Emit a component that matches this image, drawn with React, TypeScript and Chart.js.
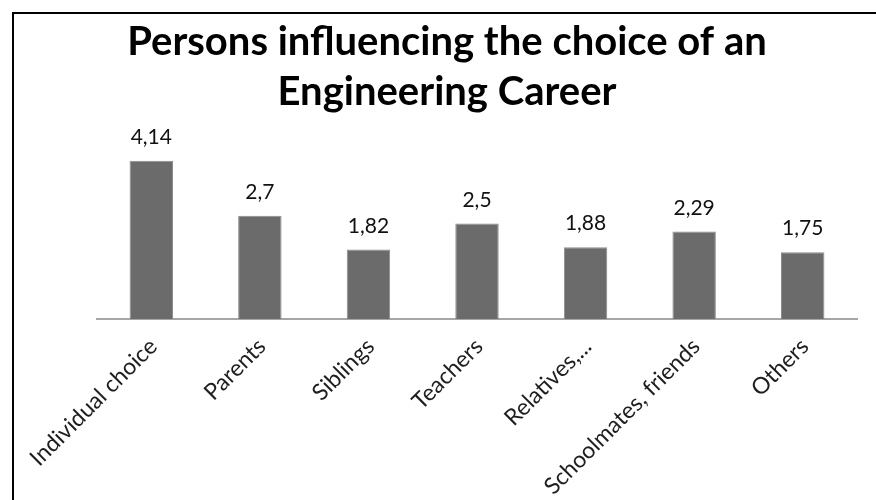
import React, { useEffect, useRef } from "react";
import { Chart, registerables } from "chart.js";

Chart.register(...registerables);

const categories = [
  "Individual choice",
  "Parents",
  "Siblings",
  "Teachers",
  "Relatives,...",
  "Schoolmates, friends",
  "Others",
];
const values = [4.14, 2.7, 1.82, 2.5, 1.88, 2.29, 1.75];
const titleLines = ["Persons influencing the choice of an", "Engineering Career"];

const FONT = "Lato, 'Open Sans', 'DejaVu Sans', sans-serif";

const valueLabels = {
  id: "valueLabels",
  afterDatasetsDraw(chart: any) {
    const ctx = chart.ctx;
    const meta = chart.getDatasetMeta(0);
    ctx.save();
    ctx.font = `21px ${FONT}`;
    ctx.fillStyle = "#111111";
    ctx.textAlign = "center";
    ctx.textBaseline = "bottom";
    meta.data.forEach((el: any, i: number) => {
      const txt = String(values[i]).replace(".", ",");
      ctx.fillText(txt, el.x, el.y - 13);
    });
    ctx.restore();
  },
};

export default function App() {
  const ref = useRef<HTMLCanvasElement>(null);
  useEffect(() => {
    document.body.style.margin = "0";
    if (!ref.current) return;
    const chart = new Chart(ref.current, {
      type: "bar",
      data: {
        labels: categories,
        datasets: [
          {
            data: values,
            backgroundColor: "#6b6b6b",
            borderColor: "#8c8c8c",
            borderWidth: 1,
            categoryPercentage: 1,
            barPercentage: 0.4,
          },
        ],
      },
      plugins: [valueLabels],
      options: {
        animation: false,
        responsive: true,
        maintainAspectRatio: false,
        layout: { padding: { left: 37, right: 19, top: 0, bottom: 0 } },
        plugins: {
          legend: { display: false },
          tooltip: { enabled: false },
          title: {
            display: true,
            text: titleLines,
            color: "#000000",
            font: { family: FONT, size: 40, weight: "bold", lineHeight: "50px" } as any,
            padding: { top: 17, bottom: 11 },
          },
        },
        scales: {
          x: {
            grid: { display: false },
            border: { display: true, color: "#a6a6a6", width: 2 },
            ticks: {
              maxRotation: 45,
              minRotation: 45,
              autoSkip: false,
              color: "#1e1e1e",
              font: { family: FONT, size: 23 },
              padding: 6,
              labelOffset: 2,
            },
            afterFit: (s: any) => {
              s.height = 181;
            },
          },
          y: {
            min: 0,
            max: 5,
            ticks: { display: false },
            grid: { display: false },
            border: { display: false },
            afterFit: (s: any) => {
              s.width = 60;
            },
          },
        },
      },
    });
    return () => chart.destroy();
  }, []);

  return (
    <div style={{ position: "relative", width: 876, height: 500, overflow: "hidden", background: "#fff" }}>
      <div
        style={{
          position: "absolute",
          left: 12,
          top: 12,
          width: 920,
          height: 600,
          border: "2px solid #000",
          boxSizing: "border-box",
        }}
      />
      <canvas ref={ref} style={{ position: "absolute", left: 0, top: 0, width: 876, height: 500 }} />
    </div>
  );
}
